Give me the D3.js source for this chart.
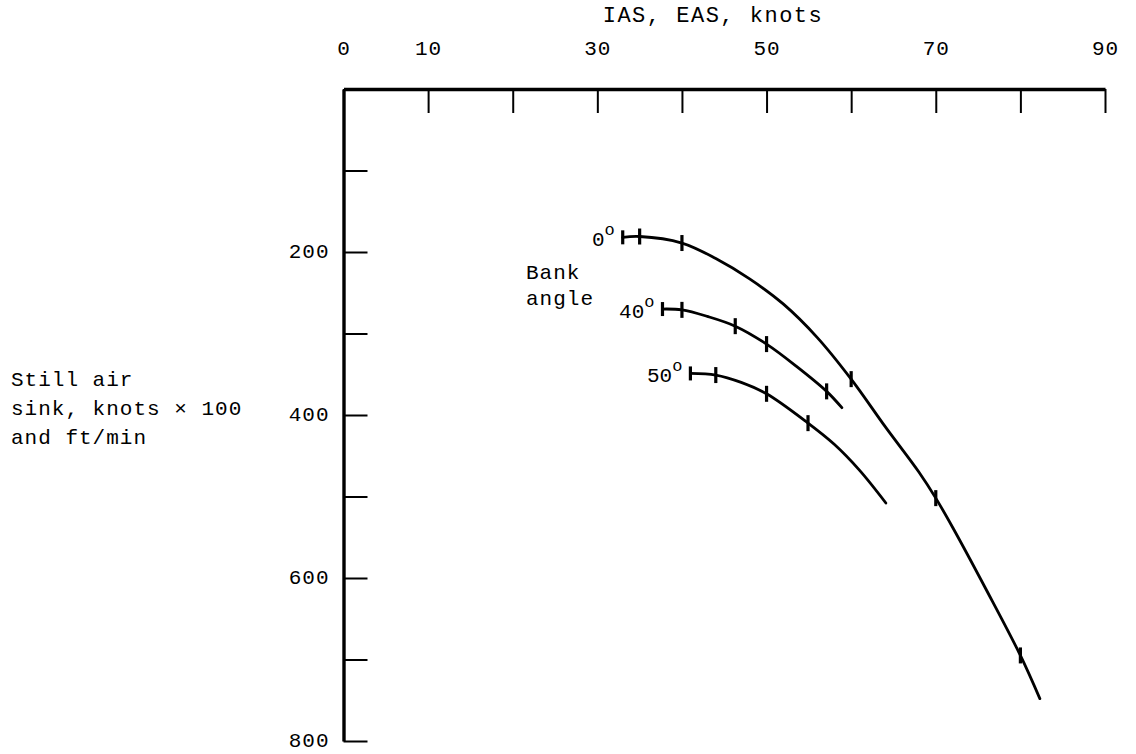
<!DOCTYPE html>
<html>
<head>
<meta charset="utf-8">
<script src="https://cdn.jsdelivr.net/npm/d3@7"></script>
<style>
  html, body { margin: 0; padding: 0; background: #fff; }
  svg text { font-family: "Liberation Mono", "DejaVu Sans Mono", monospace; fill: #000; }
</style>
</head>
<body>
<svg id="chart" width="1136" height="754"></svg>
<script>
// ---- data (speed in knots, sink in ft/min) ----
const xTickValues = [0, 10, 20, 30, 40, 50, 60, 70, 80, 90];
const xTickLabels = ["0", "10", "", "30", "", "50", "", "70", "", "90"];
const yTickValues = [100, 200, 300, 400, 500, 600, 700, 800];
const yTickLabels = ["", "200", "", "400", "", "600", "", "800"];

const bank0Speed = [33, 35, 40, 44, 48, 52, 56, 60, 64, 68, 70, 72, 76, 80, 82.3];
const bank0Sink  = [182, 181, 189, 208, 233, 264, 305, 356, 414, 470, 502, 538, 615, 695, 748];
const bank0TickSpeed = [35, 40, 60, 70, 80];

const bank40Speed = [37.7, 40, 43, 46.3, 50, 53.5, 57.1, 58.9];
const bank40Sink  = [270, 271, 279, 291, 313, 340, 371, 391];
const bank40TickSpeed = [40, 46.3, 50, 57.1];

const bank50Speed = [41, 44, 47, 50, 54.9, 58, 61, 64.1];
const bank50Sink  = [349, 351, 360, 374, 410, 436, 468, 508];
const bank50TickSpeed = [44, 50, 54.9];

const curveLabels = ["0", "40", "50"];

// ---- layout ----
const FONT = "'Liberation Mono', 'DejaVu Sans Mono', monospace";
const svg = d3.select("#chart");
const x = d3.scaleLinear().domain([0, 90]).range([343.5, 1105]);
const y = d3.scaleLinear().domain([0, 800]).range([89, 741]);

function styleText(sel, size, ls) {
  sel.style("font-size", size + "px")
     .style("font-family", FONT)
     .style("letter-spacing", (ls || 0) + "px");
}

// top axis
const xAxis = d3.axisTop(x)
  .tickValues(xTickValues)
  .tickSize(-24)
  .tickSizeOuter(0)
  .tickFormat((d, i) => xTickLabels[i]);
const gx = svg.append("g").attr("transform", `translate(0,${y(0)})`).call(xAxis);
gx.select(".domain").attr("stroke", "#000").attr("stroke-width", 3.4);
gx.selectAll(".tick line").attr("stroke", "#000").attr("stroke-width", 2);
gx.selectAll(".tick text").attr("y", -34).attr("dy", "0").attr("fill", "#000")
  .call(styleText, 21, 1);

// left axis (ticks pointing right, labels on the left)
const yAxis = d3.axisLeft(y)
  .tickValues(yTickValues)
  .tickSize(-24)
  .tickSizeOuter(0)
  .tickFormat((d, i) => yTickLabels[i]);
const gy = svg.append("g").attr("transform", `translate(${x(0)},0)`).call(yAxis);
gy.select(".domain").attr("stroke", "#000").attr("stroke-width", 3.4);
gy.selectAll(".tick line").attr("stroke", "#000").attr("stroke-width", 2);
gy.selectAll(".tick text").attr("x", -14).attr("dy", "0.26em").attr("fill", "#000")
  .call(styleText, 21, 1);

// axis titles
svg.append("text")
  .attr("x", 713)
  .attr("y", 22)
  .attr("text-anchor", "middle")
  .call(styleText, 22, 1.5)
  .text("IAS, EAS, knots");

const yTitle = svg.append("text")
  .attr("x", 11)
  .attr("y", 386)
  .call(styleText, 21, 1);
["Still air", "sink, knots \u00d7 100", "and ft/min"].forEach((t, i) => {
  yTitle.append("tspan").attr("x", 11).attr("dy", i === 0 ? 0 : 29).text(t);
});

// ---- curves ----
const series = [
  { speed: bank0Speed, sink: bank0Sink, ticks: bank0TickSpeed, label: curveLabels[0] },
  { speed: bank40Speed, sink: bank40Sink, ticks: bank40TickSpeed, label: curveLabels[1] },
  { speed: bank50Speed, sink: bank50Sink, ticks: bank50TickSpeed, label: curveLabels[2] }
];

const line = d3.line()
  .x(d => x(d[0]))
  .y(d => y(d[1]))
  .curve(d3.curveCatmullRom.alpha(0.5));

series.forEach(s => {
  const pts = s.speed.map((v, i) => [v, s.sink[i]]);
  svg.append("path")
    .attr("d", line(pts))
    .attr("fill", "none")
    .attr("stroke", "#000")
    .attr("stroke-width", 2.8)
    .attr("stroke-linecap", "round");

  // start bar
  svg.append("line")
    .attr("x1", x(pts[0][0])).attr("x2", x(pts[0][0]))
    .attr("y1", y(pts[0][1]) - 7).attr("y2", y(pts[0][1]) + 7)
    .attr("stroke", "#000").attr("stroke-width", 3.2);

  // tick marks along the curve
  const interp = v => {
    for (let i = 0; i < s.speed.length - 1; i++) {
      if (v >= s.speed[i] && v <= s.speed[i + 1]) {
        const t = (v - s.speed[i]) / (s.speed[i + 1] - s.speed[i]);
        return s.sink[i] + t * (s.sink[i + 1] - s.sink[i]);
      }
    }
    return s.sink[s.sink.length - 1];
  };
  s.ticks.forEach(v => {
    const yy = y(interp(v));
    svg.append("line")
      .attr("x1", x(v)).attr("x2", x(v))
      .attr("y1", yy - 8).attr("y2", yy + 8)
      .attr("stroke", "#000").attr("stroke-width", 3.2);
  });

  // label with a raised "o" as degree sign
  const lt = svg.append("text")
    .attr("x", x(pts[0][0]) - 8)
    .attr("y", y(pts[0][1]) + 9)
    .attr("text-anchor", "end")
    .call(styleText, 21, 0);
  lt.append("tspan").text(s.label);
  lt.append("tspan").attr("dy", -11).style("font-size", "17px").text("o");
});

// "Bank angle" note
const note = svg.append("text")
  .attr("x", 526)
  .attr("y", y(233))
  .call(styleText, 21, 1);
note.append("tspan").attr("x", 526).attr("dy", 0).text("Bank");
note.append("tspan").attr("x", 526).attr("dy", 26).text("angle");
</script>
</body>
</html>
